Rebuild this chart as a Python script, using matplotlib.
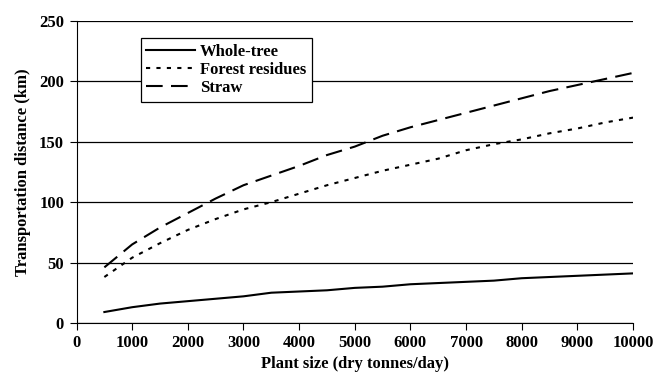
import matplotlib

matplotlib.use("Agg")
import matplotlib.pyplot as plt

plant_size = [500, 1000, 1500, 2000, 2500, 3000, 3500, 4000, 4500, 5000,
              5500, 6000, 6500, 7000, 7500, 8000, 8500, 9000, 9500, 10000]
whole_tree = [9, 13, 16, 18, 20, 22, 25, 26, 27, 29,
              30, 32, 33, 34, 35, 37, 38, 39, 40, 41]
forest_residues = [38, 54, 66, 77, 86, 94, 100, 107, 114, 120,
                   126, 131, 136, 143, 148, 152, 157, 161, 166, 170]
straw = [46, 65, 79, 91, 103, 114, 122, 130, 139, 146,
         155, 162, 168, 174, 180, 186, 192, 197, 202, 207]

plt.rcParams["font.family"] = ["Liberation Serif", "DejaVu Serif"]
plt.rcParams["font.weight"] = "bold"

fig = plt.figure(figsize=(6.57, 3.72), dpi=100)
ax = fig.add_axes([0.1165, 0.132, 0.847, 0.8115])

ax.plot(plant_size, whole_tree, color="black", lw=1.5, label="Whole-tree")
ax.plot(plant_size, forest_residues, color="black", lw=1.5,
        linestyle=(0, (2, 3)), label="Forest residues")
ax.plot(plant_size, straw, color="black", lw=1.5,
        linestyle=(0, (8, 4)), label="Straw")

ax.set_xlim(0, 10000)
ax.set_ylim(0, 250)
ax.set_xticks(range(0, 10001, 1000))
ax.set_yticks(range(0, 251, 50))
ax.yaxis.grid(True, color="black", lw=0.9)
ax.set_axisbelow(True)
for s in ("top", "right"):
    ax.spines[s].set_visible(False)
ax.tick_params(labelsize=12, direction="out", length=5, colors="black")
ax.tick_params(axis="x", pad=4)
ax.tick_params(axis="y", pad=4)
ax.set_xlabel("Plant size (dry tonnes/day)", fontsize=12, fontweight="bold",
              labelpad=3)
ax.set_ylabel("Transportation distance (km)", fontsize=12, fontweight="bold",
              labelpad=6)

leg = ax.legend(loc="upper left", bbox_to_anchor=(0.115, 0.944),
                borderaxespad=0, fontsize=12, frameon=True, fancybox=False,
                edgecolor="black", handlelength=2.9, borderpad=0.35,
                labelspacing=0.12, handletextpad=0.3)
leg.get_frame().set_linewidth(0.9)
leg.get_frame().set_alpha(1)

fig.savefig("out.png", dpi=100)
